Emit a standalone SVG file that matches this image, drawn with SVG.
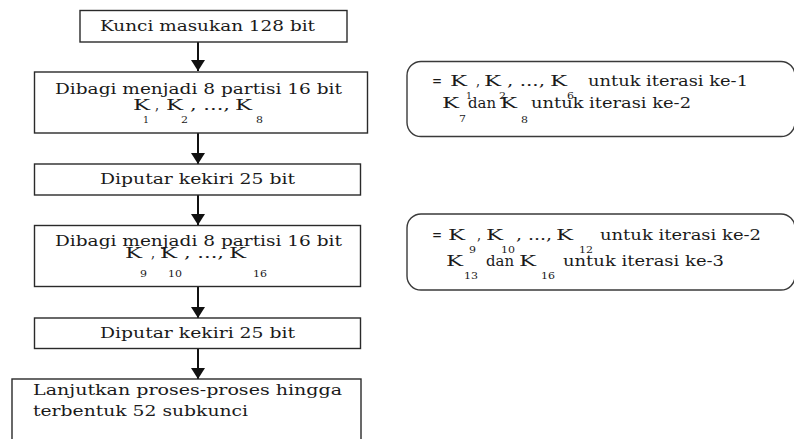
<svg xmlns="http://www.w3.org/2000/svg" width="794" height="439" viewBox="0 0 794 439">
<defs>
<style>
.box{fill:#fff;stroke:#2a2a2a;stroke-width:1.4}
.rbox{fill:#fff;stroke:#3a3a3a;stroke-width:1.4}
.t{font-family:"DejaVu Serif",serif;font-size:15px;fill:#1a1a1a}
.s{font-family:"DejaVu Serif",serif;font-size:10px;fill:#1a1a1a}
.con{stroke:#111;stroke-width:2;fill:none;marker-end:url(#ah)}
</style>
<marker id="ah" markerUnits="userSpaceOnUse" markerWidth="11" markerHeight="14" refX="11" refY="7" orient="auto">
<path d="M0,0 L11,7 L0,14 Z" fill="#111"/>
</marker>
</defs>
<rect width="794" height="439" fill="#fff"/>
<g id="connectors">
<line class="con" x1="198" y1="42" x2="198" y2="71"/>
<line class="con" x1="198" y1="133" x2="198" y2="164"/>
<line class="con" x1="198" y1="195" x2="198" y2="225"/>
<line class="con" x1="198" y1="287" x2="198" y2="318"/>
<line class="con" x1="198" y1="348" x2="198" y2="379"/>
</g>
<g id="n1">
<rect class="box" x="80" y="10.5" width="267" height="31.5"/>
<text class="t" x="100" y="31" textLength="215" lengthAdjust="spacingAndGlyphs">Kunci masukan 128 bit</text>
</g>
<g id="n2">
<rect class="box" x="34.5" y="72" width="333" height="61"/>
<text class="t" x="55" y="94" textLength="287" lengthAdjust="spacingAndGlyphs">Dibagi menjadi 8 partisi  16 bit</text>
<text class="t" x="133" y="110" textLength="17" lengthAdjust="spacingAndGlyphs">K</text>
<text class="s" x="143" y="123" textLength="6" lengthAdjust="spacingAndGlyphs">1</text>
<text class="t" x="155" y="110" textLength="4" lengthAdjust="spacingAndGlyphs">,</text>
<text class="t" x="166" y="110" textLength="17" lengthAdjust="spacingAndGlyphs">K</text>
<text class="s" x="181" y="123" textLength="7" lengthAdjust="spacingAndGlyphs">2</text>
<text class="t" x="190" y="110" textLength="40" lengthAdjust="spacingAndGlyphs">, ..., </text>
<text class="t" x="235" y="110" textLength="17" lengthAdjust="spacingAndGlyphs">K</text>
<text class="s" x="256" y="123" textLength="7" lengthAdjust="spacingAndGlyphs">8</text>
</g>
<g id="n3">
<rect class="box" x="34.5" y="164" width="326" height="31"/>
<text class="t" x="100" y="184" textLength="195" lengthAdjust="spacingAndGlyphs">Diputar kekiri 25 bit</text>
</g>
<g id="n4">
<rect class="box" x="34.5" y="225.5" width="326" height="61"/>
<text class="t" x="55" y="246" textLength="287" lengthAdjust="spacingAndGlyphs">Dibagi menjadi 8 partisi  16 bit</text>
<text class="t" x="125" y="258" textLength="17" lengthAdjust="spacingAndGlyphs">K</text>
<text class="s" x="140" y="277" textLength="7" lengthAdjust="spacingAndGlyphs">9</text>
<text class="t" x="151" y="258" textLength="4" lengthAdjust="spacingAndGlyphs">,</text>
<text class="t" x="160" y="258" textLength="17" lengthAdjust="spacingAndGlyphs">K</text>
<text class="s" x="168" y="277" textLength="14" lengthAdjust="spacingAndGlyphs">10</text>
<text class="t" x="184" y="258" textLength="40" lengthAdjust="spacingAndGlyphs">, ..., </text>
<text class="t" x="229" y="258" textLength="17" lengthAdjust="spacingAndGlyphs">K</text>
<text class="s" x="253" y="277" textLength="14" lengthAdjust="spacingAndGlyphs">16</text>
</g>
<g id="n5">
<rect class="box" x="34.5" y="318" width="326" height="30.5"/>
<text class="t" x="100" y="338" textLength="195" lengthAdjust="spacingAndGlyphs">Diputar kekiri 25 bit</text>
</g>
<g id="n6">
<rect class="box" x="12" y="379" width="349" height="70"/>
<text class="t" x="33" y="395" textLength="309" lengthAdjust="spacingAndGlyphs">Lanjutkan proses-proses  hingga</text>
<text class="t" x="33" y="416" textLength="215" lengthAdjust="spacingAndGlyphs">terbentuk 52 subkunci</text>
</g>
<g id="note1">
<rect class="rbox" x="407" y="61.5" width="388" height="75" rx="14" ry="14"/>
<text class="t" x="432" y="85.5" textLength="10" lengthAdjust="spacingAndGlyphs">=</text>
<text class="t" x="450" y="85.5" textLength="17" lengthAdjust="spacingAndGlyphs">K</text>
<text class="s" x="466" y="99" textLength="6" lengthAdjust="spacingAndGlyphs">1</text>
<text class="t" x="476" y="85.5" textLength="4" lengthAdjust="spacingAndGlyphs">,</text>
<text class="t" x="484" y="85.5" textLength="17" lengthAdjust="spacingAndGlyphs">K</text>
<text class="s" x="499" y="99" textLength="7" lengthAdjust="spacingAndGlyphs">2</text>
<text class="t" x="507" y="85.5" textLength="38" lengthAdjust="spacingAndGlyphs">, ..., </text>
<text class="t" x="550" y="85.5" textLength="17" lengthAdjust="spacingAndGlyphs">K</text>
<text class="s" x="567" y="99" textLength="7" lengthAdjust="spacingAndGlyphs">6</text>
<text class="t" x="588" y="85.5" textLength="160" lengthAdjust="spacingAndGlyphs">untuk iterasi ke-1</text>
<text class="t" x="442" y="108" textLength="17" lengthAdjust="spacingAndGlyphs">K</text>
<text class="s" x="459" y="122" textLength="7" lengthAdjust="spacingAndGlyphs">7</text>
<text class="t" x="468" y="108" textLength="28" lengthAdjust="spacingAndGlyphs">dan</text>
<text class="t" x="500" y="108" textLength="17" lengthAdjust="spacingAndGlyphs">K</text>
<text class="s" x="521" y="123" textLength="7" lengthAdjust="spacingAndGlyphs">8</text>
<text class="t" x="531" y="108" textLength="160" lengthAdjust="spacingAndGlyphs">untuk iterasi ke-2</text>
</g>
<g id="note2">
<rect class="rbox" x="407" y="214" width="388" height="76" rx="14" ry="14"/>
<text class="t" x="432" y="240" textLength="10" lengthAdjust="spacingAndGlyphs">=</text>
<text class="t" x="448" y="240" textLength="17" lengthAdjust="spacingAndGlyphs">K</text>
<text class="s" x="469" y="253" textLength="7" lengthAdjust="spacingAndGlyphs">9</text>
<text class="t" x="477" y="240" textLength="4" lengthAdjust="spacingAndGlyphs">,</text>
<text class="t" x="486" y="240" textLength="17" lengthAdjust="spacingAndGlyphs">K</text>
<text class="s" x="501" y="253" textLength="14" lengthAdjust="spacingAndGlyphs">10</text>
<text class="t" x="516" y="240" textLength="36" lengthAdjust="spacingAndGlyphs">, ..., </text>
<text class="t" x="556" y="240" textLength="17" lengthAdjust="spacingAndGlyphs">K</text>
<text class="s" x="579" y="253" textLength="14" lengthAdjust="spacingAndGlyphs">12</text>
<text class="t" x="600" y="240" textLength="161" lengthAdjust="spacingAndGlyphs">untuk iterasi ke-2</text>
<text class="t" x="446" y="266" textLength="17" lengthAdjust="spacingAndGlyphs">K</text>
<text class="s" x="464" y="279" textLength="14" lengthAdjust="spacingAndGlyphs">13</text>
<text class="t" x="486" y="266" textLength="28" lengthAdjust="spacingAndGlyphs">dan</text>
<text class="t" x="519" y="266" textLength="17" lengthAdjust="spacingAndGlyphs">K</text>
<text class="s" x="541" y="279" textLength="14" lengthAdjust="spacingAndGlyphs">16</text>
<text class="t" x="563" y="266" textLength="161" lengthAdjust="spacingAndGlyphs">untuk iterasi ke-3</text>
</g>
</svg>
